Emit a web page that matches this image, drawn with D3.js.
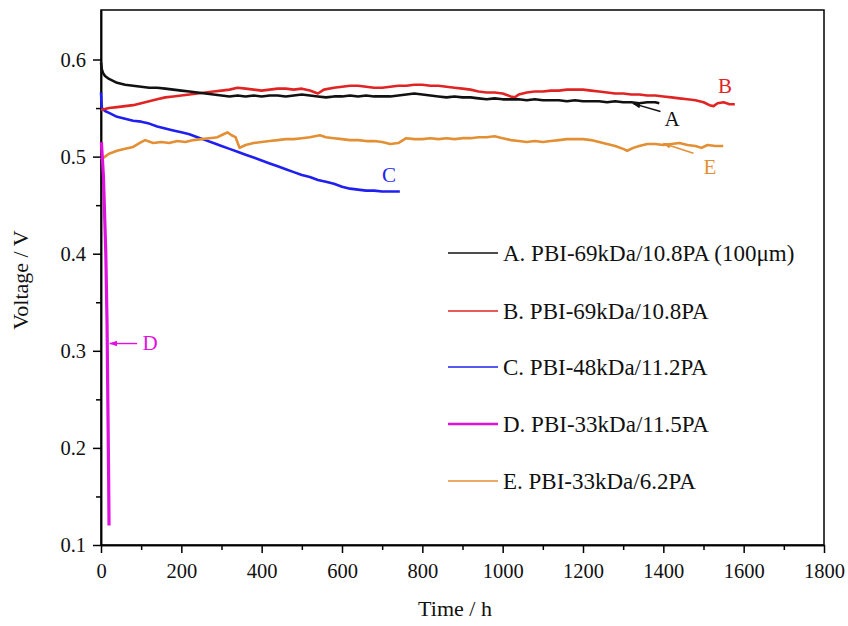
<!DOCTYPE html>
<html><head><meta charset="utf-8">
<script src="https://cdn.jsdelivr.net/npm/d3@7"></script>
<style>body{margin:0;background:#fff}svg{display:block}text{font-family:"Liberation Serif","Times New Roman",serif}</style>
</head><body><svg id="c" width="848" height="626"></svg>
<script>
const xTicks=[0,200,400,600,800,1000,1200,1400,1600,1800];
const yTicks=[0.1,0.2,0.3,0.4,0.5,0.6];
const seriesNames=["A. PBI-69kDa/10.8PA (100\u03bcm)","B. PBI-69kDa/10.8PA","C. PBI-48kDa/11.2PA","D. PBI-33kDa/11.5PA","E. PBI-33kDa/6.2PA"];
const seriesColors=["#111111","#e02424","#1f1ff0","#e010e0","#e38f33"];
const seriesA=[[0,0.597],[2,0.590],[5,0.586],[10,0.583],[20,0.580],[30,0.578],[40,0.576],[60,0.574],[80,0.573],[100,0.572],[120,0.571],[140,0.571],[160,0.570],[180,0.569],[200,0.568],[220,0.567],[240,0.566],[260,0.565],[280,0.564],[300,0.563],[320,0.562],[340,0.563],[360,0.562],[380,0.563],[400,0.562],[420,0.563],[440,0.563],[460,0.562],[480,0.563],[500,0.564],[520,0.563],[540,0.562],[560,0.561],[580,0.562],[600,0.562],[620,0.563],[640,0.562],[660,0.563],[680,0.562],[700,0.562],[720,0.562],[740,0.563],[760,0.564],[780,0.565],[800,0.564],[820,0.563],[840,0.562],[860,0.561],[880,0.562],[900,0.561],[920,0.561],[940,0.560],[960,0.559],[980,0.560],[1000,0.559],[1020,0.559],[1040,0.559],[1060,0.558],[1080,0.559],[1100,0.558],[1120,0.558],[1140,0.558],[1160,0.557],[1180,0.558],[1200,0.557],[1220,0.557],[1240,0.557],[1260,0.556],[1280,0.557],[1300,0.556],[1320,0.556],[1340,0.555],[1360,0.556],[1380,0.556],[1390,0.555]];
const seriesB=[[0,0.548],[20,0.550],[40,0.551],[60,0.552],[80,0.553],[100,0.555],[120,0.557],[140,0.559],[160,0.561],[180,0.562],[200,0.563],[220,0.564],[240,0.565],[260,0.566],[280,0.567],[300,0.568],[320,0.569],[340,0.571],[360,0.570],[380,0.569],[400,0.568],[420,0.569],[440,0.570],[460,0.570],[480,0.569],[500,0.570],[520,0.568],[540,0.565],[555,0.569],[580,0.571],[600,0.572],[620,0.573],[640,0.573],[660,0.572],[680,0.571],[700,0.571],[720,0.572],[740,0.573],[760,0.573],[780,0.574],[800,0.574],[820,0.573],[840,0.573],[860,0.572],[880,0.571],[900,0.570],[920,0.569],[940,0.567],[960,0.566],[980,0.566],[1000,0.565],[1020,0.562],[1030,0.561],[1040,0.564],[1060,0.566],[1080,0.567],[1100,0.567],[1120,0.568],[1140,0.568],[1160,0.569],[1180,0.569],[1200,0.569],[1220,0.568],[1240,0.567],[1260,0.566],[1280,0.565],[1300,0.565],[1320,0.564],[1340,0.564],[1360,0.563],[1380,0.563],[1400,0.562],[1420,0.561],[1440,0.560],[1460,0.559],[1480,0.558],[1500,0.556],[1515,0.553],[1525,0.552],[1535,0.555],[1550,0.556],[1565,0.554],[1578,0.554]];
const seriesC=[[0,0.566],[2,0.550],[10,0.547],[20,0.545],[40,0.541],[60,0.539],[80,0.537],[100,0.536],[120,0.534],[140,0.531],[160,0.529],[180,0.527],[200,0.525],[220,0.523],[240,0.520],[260,0.517],[280,0.514],[300,0.511],[320,0.508],[340,0.505],[360,0.502],[380,0.499],[400,0.496],[420,0.493],[440,0.490],[460,0.487],[480,0.484],[500,0.481],[520,0.479],[540,0.476],[560,0.474],[580,0.472],[600,0.469],[620,0.467],[640,0.466],[660,0.465],[680,0.465],[700,0.464],[720,0.464],[744,0.464]];
const seriesD=[[1,0.515],[6,0.48],[12,0.40],[15,0.33],[17,0.25],[19,0.17],[20,0.12]];
const seriesE=[[0,0.497],[10,0.500],[20,0.503],[40,0.506],[60,0.508],[80,0.510],[100,0.515],[110,0.517],[130,0.514],[150,0.515],[170,0.514],[190,0.516],[210,0.515],[230,0.517],[250,0.518],[270,0.519],[290,0.520],[305,0.523],[315,0.525],[325,0.522],[335,0.520],[345,0.509],[360,0.512],[380,0.514],[400,0.515],[420,0.516],[440,0.517],[460,0.518],[480,0.518],[500,0.519],[520,0.520],[545,0.522],[560,0.520],[580,0.519],[600,0.518],[620,0.517],[640,0.517],[660,0.516],[680,0.516],[700,0.515],[720,0.513],[740,0.514],[760,0.519],[780,0.518],[800,0.518],[820,0.519],[840,0.518],[860,0.519],[880,0.518],[900,0.519],[920,0.519],[940,0.520],[960,0.520],[980,0.521],[1000,0.519],[1020,0.517],[1040,0.516],[1060,0.515],[1080,0.516],[1100,0.515],[1120,0.516],[1140,0.517],[1160,0.518],[1180,0.518],[1200,0.518],[1220,0.517],[1240,0.515],[1260,0.513],[1280,0.511],[1300,0.508],[1310,0.506],[1325,0.509],[1340,0.511],[1360,0.513],[1380,0.513],[1400,0.512],[1420,0.513],[1440,0.514],[1460,0.512],[1480,0.511],[1495,0.509],[1510,0.512],[1530,0.511],[1549,0.511]];
const annotations=[
 {label:"A",color:"#111111",lx:672,ly:119,from:[1393,0.5465],to:[1325,0.5545]},
 {label:"B",color:"#e02424",lx:725,ly:86,from:null,to:null},
 {label:"C",color:"#1f1ff0",lx:389,ly:175,from:null,to:null},
 {label:"D",color:"#e010e0",lx:150,ly:343,from:[90,0.3075],to:[22,0.3075]},
 {label:"E",color:"#e38f33",lx:710,ly:167,from:[1475,0.5035],to:[1400,0.5135]}
];

const svg=d3.select("#c");
const m={l:101,r:24,t:10,b:81};
const W=848,H=626;
const x=d3.scaleLinear().domain([0,1800]).range([m.l,W-m.r]);
const y=d3.scaleLinear().domain([0.1,0.651]).range([H-m.b,m.t]);

svg.append("rect").attr("x",m.l).attr("y",m.t).attr("width",W-m.r-m.l).attr("height",H-m.b-m.t)
 .attr("fill","none").attr("stroke","#000").attr("stroke-width",1.5);

const minorX=d3.range(100,1800,200);
const minorY=[0.15,0.25,0.35,0.45,0.55];
const gx=svg.append("g").attr("transform",`translate(0,${H-m.b})`);
gx.call(d3.axisBottom(x).tickValues(xTicks).tickSize(8).tickSizeOuter(0).tickPadding(10).tickFormat(d3.format("d")));
gx.append("g").call(d3.axisBottom(x).tickValues(minorX).tickSize(5).tickSizeOuter(0).tickFormat(""));
const gy=svg.append("g").attr("transform",`translate(${m.l},0)`);
gy.call(d3.axisLeft(y).tickValues(yTicks).tickSize(8).tickSizeOuter(0).tickPadding(7).tickFormat(d3.format(".1f")));
gy.append("g").call(d3.axisLeft(y).tickValues(minorY).tickSize(5).tickSizeOuter(0).tickFormat(""));
svg.selectAll(".domain").attr("stroke","#000").attr("stroke-width",1.5);
svg.selectAll(".tick line").attr("stroke","#000").attr("stroke-width",1.5);
svg.selectAll(".tick text").attr("font-family","Liberation Serif").attr("font-size",20.5).attr("fill","#111");

const line=d3.line().x(d=>x(d[0])).y(d=>y(d[1]));
const all=[seriesA,seriesB,seriesC,seriesD,seriesE];
const order=[2,4,1,0,3];
order.forEach(i=>{
 svg.append("path").datum(all[i]).attr("d",line).attr("fill","none")
  .attr("stroke",seriesColors[i]).attr("stroke-width",i===3?3.2:2.6).attr("stroke-linejoin","round");
});

const defs=svg.append("defs");
annotations.forEach((a,i)=>{
 defs.append("marker").attr("id","ar"+i).attr("viewBox","0 0 10 10").attr("refX",9).attr("refY",5)
  .attr("markerWidth",8).attr("markerHeight",8).attr("orient","auto").attr("markerUnits","userSpaceOnUse")
  .append("path").attr("d","M0,1.5L10,5L0,8.5Z").attr("fill",a.color);
 if(a.from){
  svg.append("line").attr("x1",x(a.from[0])).attr("y1",y(a.from[1])).attr("x2",x(a.to[0])).attr("y2",y(a.to[1]))
   .attr("stroke",a.color).attr("stroke-width",1.4).attr("marker-end",`url(#ar${i})`);
 }
 svg.append("text").attr("x",a.lx).attr("y",a.ly).attr("dy","0.35em").attr("text-anchor","middle")
  .attr("font-size",21).attr("fill",a.color).text(a.label);
});

const legY=[253,311,367,424,481];
seriesNames.forEach((n,i)=>{
 svg.append("line").attr("x1",448).attr("x2",498).attr("y1",legY[i]).attr("y2",legY[i])
  .attr("stroke",seriesColors[i]).attr("stroke-width",i===3?2.6:1.7);
 svg.append("text").attr("x",503).attr("y",legY[i]).attr("dy","0.35em").attr("font-size",23).attr("fill","#111").text(n);
});

svg.append("text").attr("x",455).attr("y",616).attr("text-anchor","middle").attr("font-size",22).attr("fill","#111").text("Time / h");
svg.append("text").attr("transform",`translate(28,280) rotate(-90)`).attr("text-anchor","middle").attr("font-size",22).attr("fill","#111").text("Voltage / V");
</script></body></html>
